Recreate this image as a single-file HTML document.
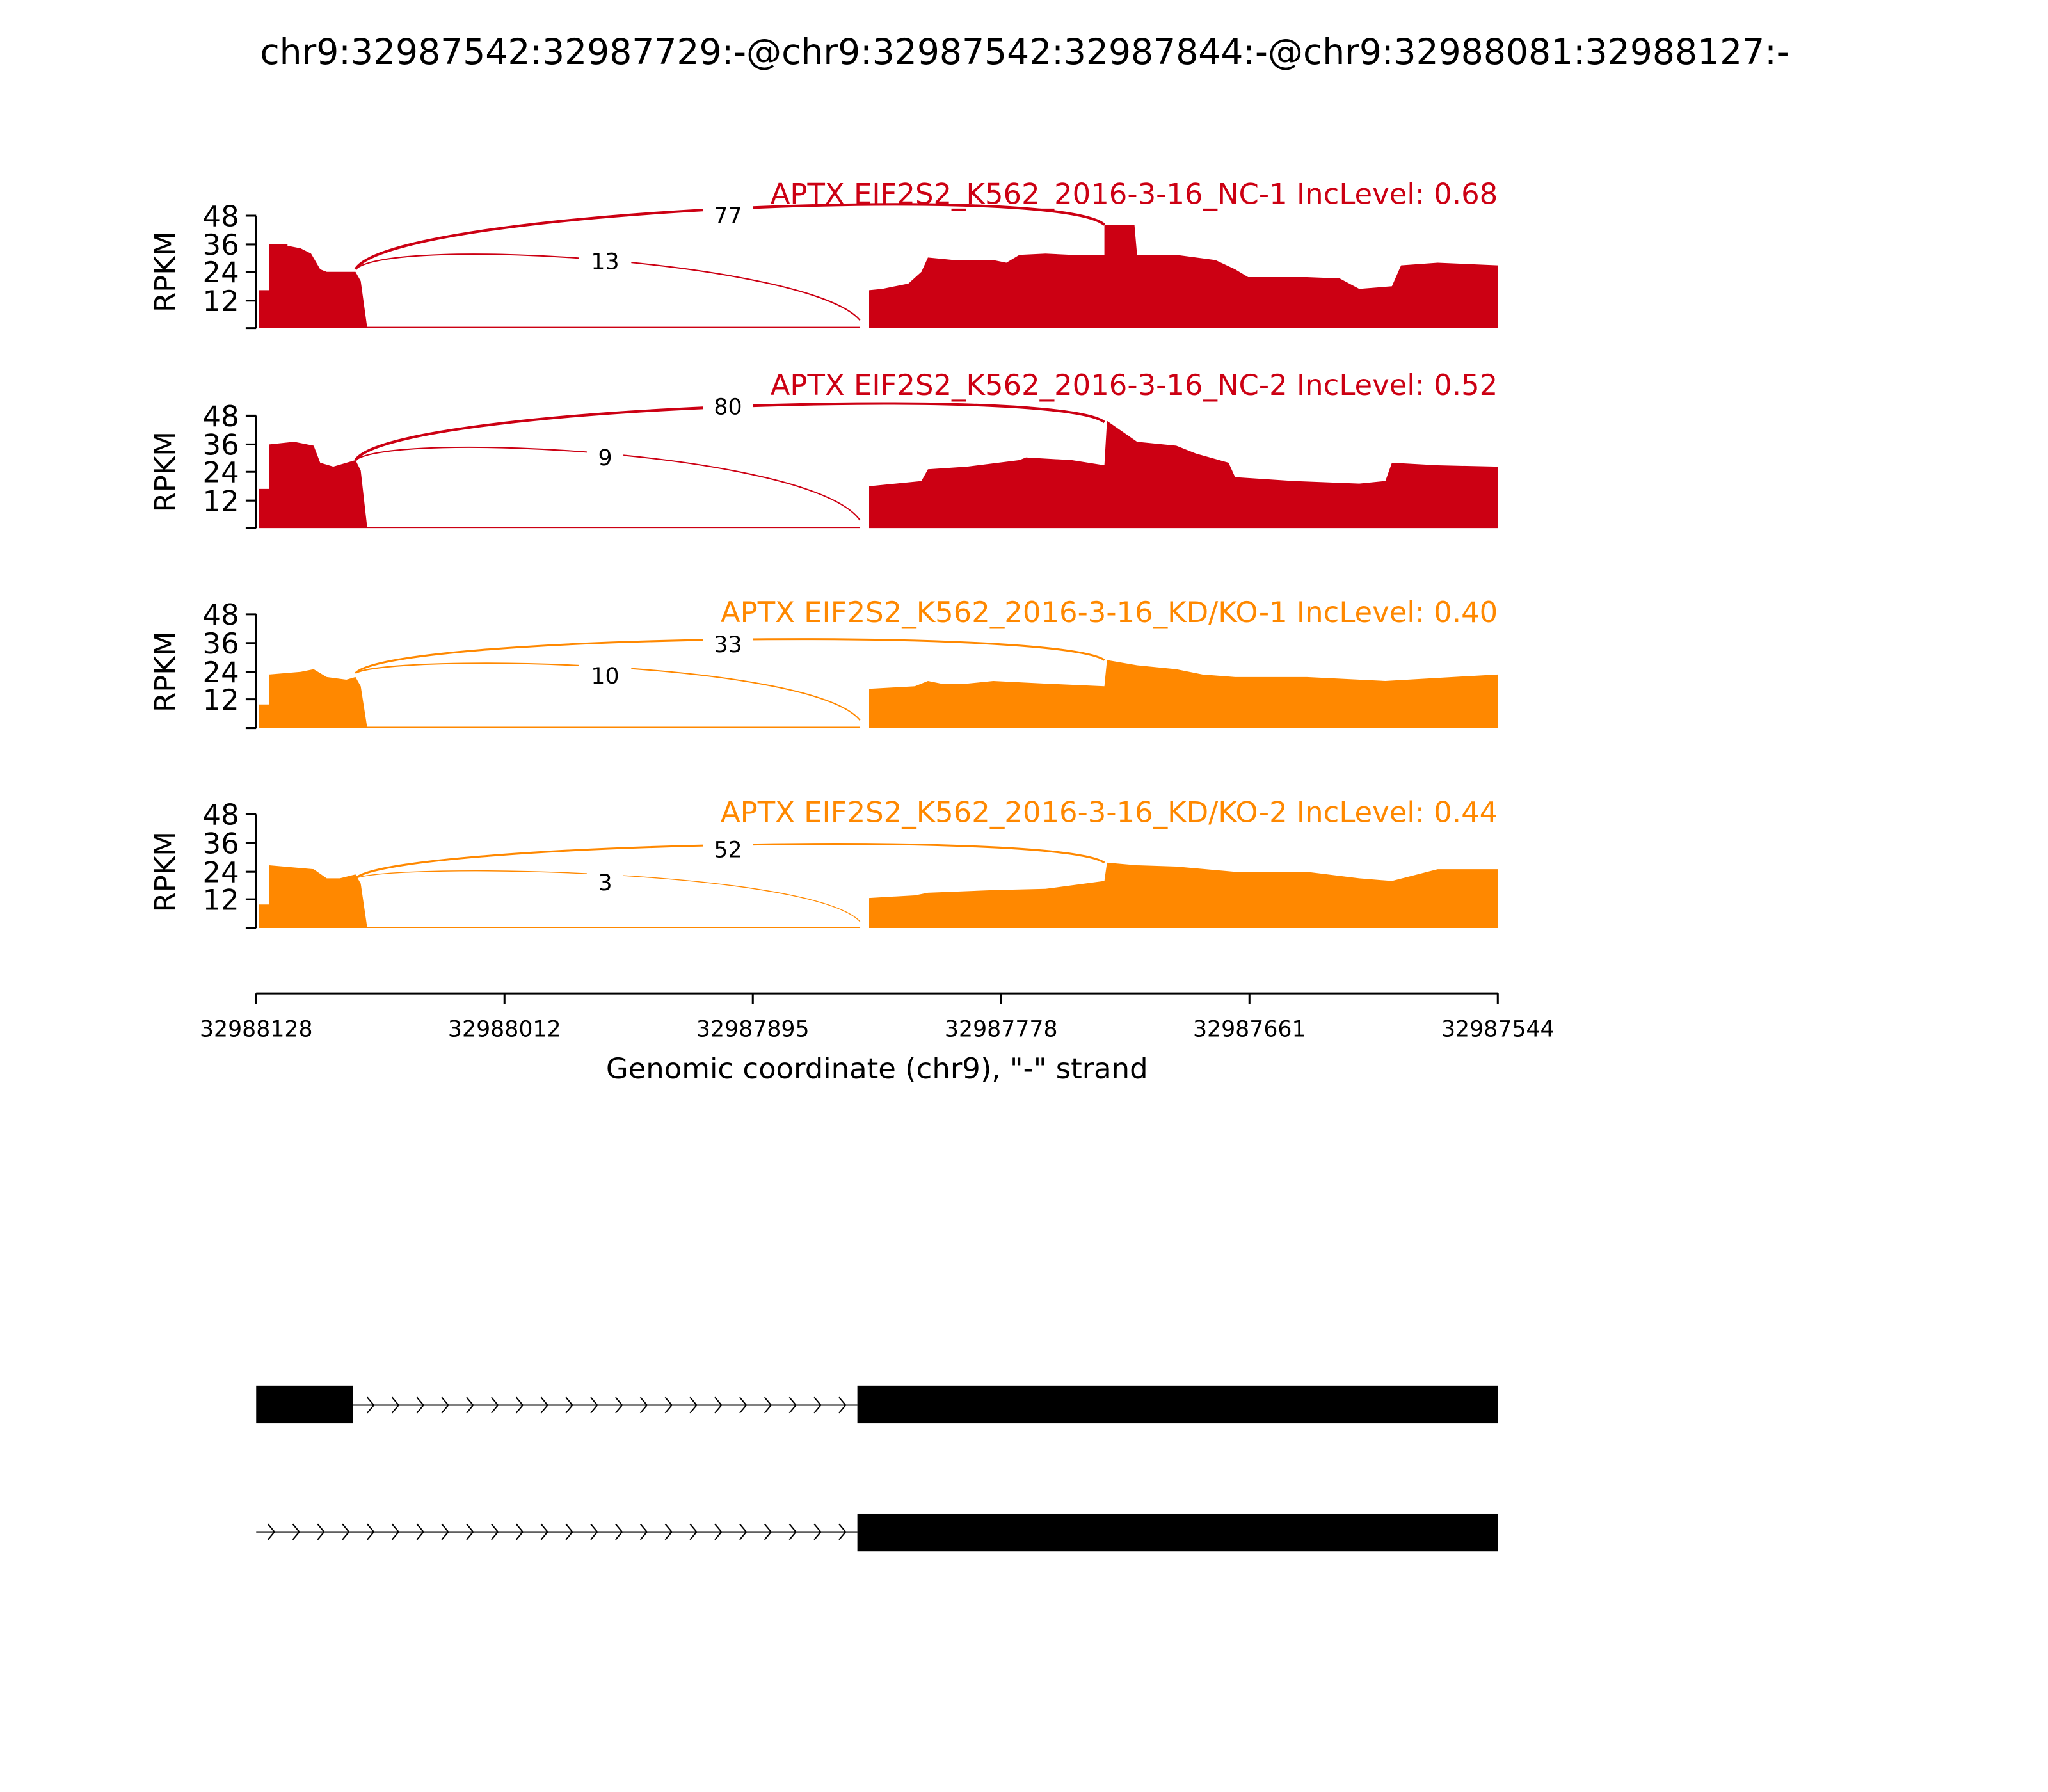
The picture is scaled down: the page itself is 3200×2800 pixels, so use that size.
<!DOCTYPE html>
<html><head><meta charset="utf-8"><style>html,body{margin:0;padding:0;background:#fff}svg{display:block}text{font-family:"DejaVu Sans","Liberation Sans",sans-serif}</style></head>
<body>
<svg width="3200" height="2800" viewBox="0 0 1567 1371" preserveAspectRatio="none" xmlns="http://www.w3.org/2000/svg">
<rect width="1567" height="1371" fill="#fff"/>
<text x="784" y="49" font-size="27" text-anchor="middle">chr9:32987542:32987729:-@chr9:32987542:32987844:-@chr9:32988081:32988127:-</text>

<g>
<path fill="#cc0013" d="M198,251 L198,222 L206,222 L206,187 L220,187 L220,188 L230,190 L238,194 L245,206 L250,208 L272,208 L276,215 L281,251 L281,250 L658,250 L658,251 L665,251 L665,222 L675,221 L695,217 L705,208 L710,197 L730,199 L760,199 L770,201 L780,195 L800,194 L820,195 L838,195 L845,195 L845,172 L868,172 L870,195 L900,195 L930,199 L945,206 L955,212 L1000,212 L1025,213 L1040,221 L1065,219 L1072,203 L1100,201 L1146,203 L1146,251 Z"/>
<path d="M272,206 C300,160 810,140 845,172" fill="none" stroke="#cc0013" stroke-width="2"/>
<path d="M272,206 C300,180 620,200 658,245" fill="none" stroke="#cc0013" stroke-width="1"/>
<rect x="538" y="155" width="38" height="21" fill="#fff"/><text x="557" y="171" font-size="17" text-anchor="middle">77</text>
<rect x="443" y="190" width="40" height="21" fill="#fff"/><text x="463" y="206" font-size="17" text-anchor="middle">13</text>
<text x="1146" y="156" font-size="22" text-anchor="end" fill="#cc0013">APTX EIF2S2_K562_2016-3-16_NC-1 IncLevel: 0.68</text>
</g>

<g>
<path fill="#cc0013" d="M198,404 L198,374 L206,374 L206,340 L225,338 L240,341 L245,354 L255,357 L272,352 L276,360 L281,404 L281,403 L658,403 L658,404 L665,404 L665,372 L705,368 L710,359 L740,357 L780,352 L785,350 L820,352 L845,356 L847,322 L870,338 L900,341 L915,347 L940,354 L945,365 L990,368 L1040,370 L1060,368 L1065,354 L1100,356 L1146,357 L1146,404 Z"/>
<path d="M272,352 C300,310 810,295 845,323" fill="none" stroke="#cc0013" stroke-width="2"/>
<path d="M272,352 C300,330 620,345 658,398" fill="none" stroke="#cc0013" stroke-width="1"/>
<rect x="538" y="301" width="38" height="21" fill="#fff"/><text x="557" y="317" font-size="17" text-anchor="middle">80</text>
<rect x="449" y="340" width="28" height="21" fill="#fff"/><text x="463" y="356" font-size="17" text-anchor="middle">9</text>
<text x="1146" y="302" font-size="22" text-anchor="end" fill="#cc0013">APTX EIF2S2_K562_2016-3-16_NC-2 IncLevel: 0.52</text>
</g>

<g>
<path fill="#ff8800" d="M198,557 L198,539 L206,539 L206,516 L230,514 L240,512 L250,518 L265,520 L272,518 L276,525 L281,557 L281,556 L658,556 L658,557 L665,557 L665,527 L700,525 L710,521 L720,523 L740,523 L760,521 L800,523 L845,525 L847,505 L870,509 L900,512 L920,516 L945,518 L1000,518 L1060,521 L1146,516 L1146,557 Z"/>
<path d="M272,515 C300,485 810,480 845,505" fill="none" stroke="#ff8800" stroke-width="1.5"/>
<path d="M272,515 C300,500 620,505 658,551" fill="none" stroke="#ff8800" stroke-width="1"/>
<rect x="538" y="483" width="38" height="21" fill="#fff"/><text x="557" y="499" font-size="17" text-anchor="middle">33</text>
<rect x="443" y="507" width="40" height="21" fill="#fff"/><text x="463" y="523" font-size="17" text-anchor="middle">10</text>
<text x="1146" y="476" font-size="22" text-anchor="end" fill="#ff8800">APTX EIF2S2_K562_2016-3-16_KD/KO-1 IncLevel: 0.40</text>
</g>

<g>
<path fill="#ff8800" d="M198,710 L198,692 L206,692 L206,662 L240,665 L250,672 L260,672 L272,669 L276,676 L281,710 L281,709 L658,709 L658,710 L665,710 L665,687 L700,685 L710,683 L760,681 L800,680 L845,674 L847,660 L870,662 L900,663 L945,667 L1000,667 L1040,672 L1065,674 L1100,665 L1146,665 L1146,710 Z"/>
<path d="M272,672 C300,645 810,635 845,660" fill="none" stroke="#ff8800" stroke-width="1.5"/>
<path d="M272,672 C300,660 620,665 658,705" fill="none" stroke="#ff8800" stroke-width="0.7"/>
<rect x="538" y="640" width="38" height="21" fill="#fff"/><text x="557" y="656" font-size="17" text-anchor="middle">52</text>
<rect x="449" y="665" width="28" height="21" fill="#fff"/><text x="463" y="681" font-size="17" text-anchor="middle">3</text>
<text x="1146" y="629" font-size="22" text-anchor="end" fill="#ff8800">APTX EIF2S2_K562_2016-3-16_KD/KO-2 IncLevel: 0.44</text>
</g>

<g stroke="#000" stroke-width="1.5" fill="none">
<path d="M196,165 V251 M188,165 H196 M188,187 H196 M188,208 H196 M188,230 H196 M188,251 H196"/>
<path d="M196,318 V404 M188,318 H196 M188,340 H196 M188,361 H196 M188,383 H196 M188,404 H196"/>
<path d="M196,470 V557 M188,470 H196 M188,492 H196 M188,514 H196 M188,535 H196 M188,557 H196"/>
<path d="M196,623 V710 M188,623 H196 M188,645 H196 M188,667 H196 M188,688 H196 M188,710 H196"/>
</g>
<g font-size="22" text-anchor="end">
<text x="183" y="173">48</text><text x="183" y="195">36</text><text x="183" y="216">24</text><text x="183" y="238">12</text>
<text x="183" y="326">48</text><text x="183" y="348">36</text><text x="183" y="369">24</text><text x="183" y="391">12</text>
<text x="183" y="478">48</text><text x="183" y="500">36</text><text x="183" y="522">24</text><text x="183" y="543">12</text>
<text x="183" y="631">48</text><text x="183" y="653">36</text><text x="183" y="675">24</text><text x="183" y="696">12</text>
</g>
<g font-size="22" text-anchor="middle">
<text transform="translate(134,208) rotate(-90)">RPKM</text>
<text transform="translate(134,361) rotate(-90)">RPKM</text>
<text transform="translate(134,514) rotate(-90)">RPKM</text>
<text transform="translate(134,667) rotate(-90)">RPKM</text>
</g>

<g stroke="#000" stroke-width="1.5">
<path d="M196,760 H1146 M196,760 V768 M386,760 V768 M576,760 V768 M766,760 V768 M956,760 V768 M1146,760 V768"/>
</g>
<g font-size="17" text-anchor="middle">
<text x="196" y="793">32988128</text><text x="386" y="793">32988012</text><text x="576" y="793">32987895</text><text x="766" y="793">32987778</text><text x="956" y="793">32987661</text><text x="1146" y="793">32987544</text>
</g>
<text x="671" y="825" font-size="22" text-anchor="middle">Genomic coordinate (chr9), "-" strand</text>

<rect x="196" y="1060" width="74" height="29" fill="#000"/>
<rect x="656" y="1060" width="490" height="29" fill="#000"/>
<path d="M270,1075 H656" stroke="#000" stroke-width="1"/>
<path stroke="#000" stroke-width="1" fill="none" d="M281,1069 l5,6 l-5,6 M300,1069 l5,6 l-5,6 M319,1069 l5,6 l-5,6 M338,1069 l5,6 l-5,6 M357,1069 l5,6 l-5,6 M376,1069 l5,6 l-5,6 M395,1069 l5,6 l-5,6 M414,1069 l5,6 l-5,6 M433,1069 l5,6 l-5,6 M452,1069 l5,6 l-5,6 M471,1069 l5,6 l-5,6 M490,1069 l5,6 l-5,6 M509,1069 l5,6 l-5,6 M528,1069 l5,6 l-5,6 M547,1069 l5,6 l-5,6 M566,1069 l5,6 l-5,6 M585,1069 l5,6 l-5,6 M604,1069 l5,6 l-5,6 M623,1069 l5,6 l-5,6 M642,1069 l5,6 l-5,6"/>
<rect x="656" y="1158" width="490" height="29" fill="#000"/>
<path d="M196,1172 H656" stroke="#000" stroke-width="1"/>
<path stroke="#000" stroke-width="1" fill="none" d="M205,1166 l5,6 l-5,6 M224,1166 l5,6 l-5,6 M243,1166 l5,6 l-5,6 M262,1166 l5,6 l-5,6 M281,1166 l5,6 l-5,6 M300,1166 l5,6 l-5,6 M319,1166 l5,6 l-5,6 M338,1166 l5,6 l-5,6 M357,1166 l5,6 l-5,6 M376,1166 l5,6 l-5,6 M395,1166 l5,6 l-5,6 M414,1166 l5,6 l-5,6 M433,1166 l5,6 l-5,6 M452,1166 l5,6 l-5,6 M471,1166 l5,6 l-5,6 M490,1166 l5,6 l-5,6 M509,1166 l5,6 l-5,6 M528,1166 l5,6 l-5,6 M547,1166 l5,6 l-5,6 M566,1166 l5,6 l-5,6 M585,1166 l5,6 l-5,6 M604,1166 l5,6 l-5,6 M623,1166 l5,6 l-5,6 M642,1166 l5,6 l-5,6"/>
</svg>
</body></html>
